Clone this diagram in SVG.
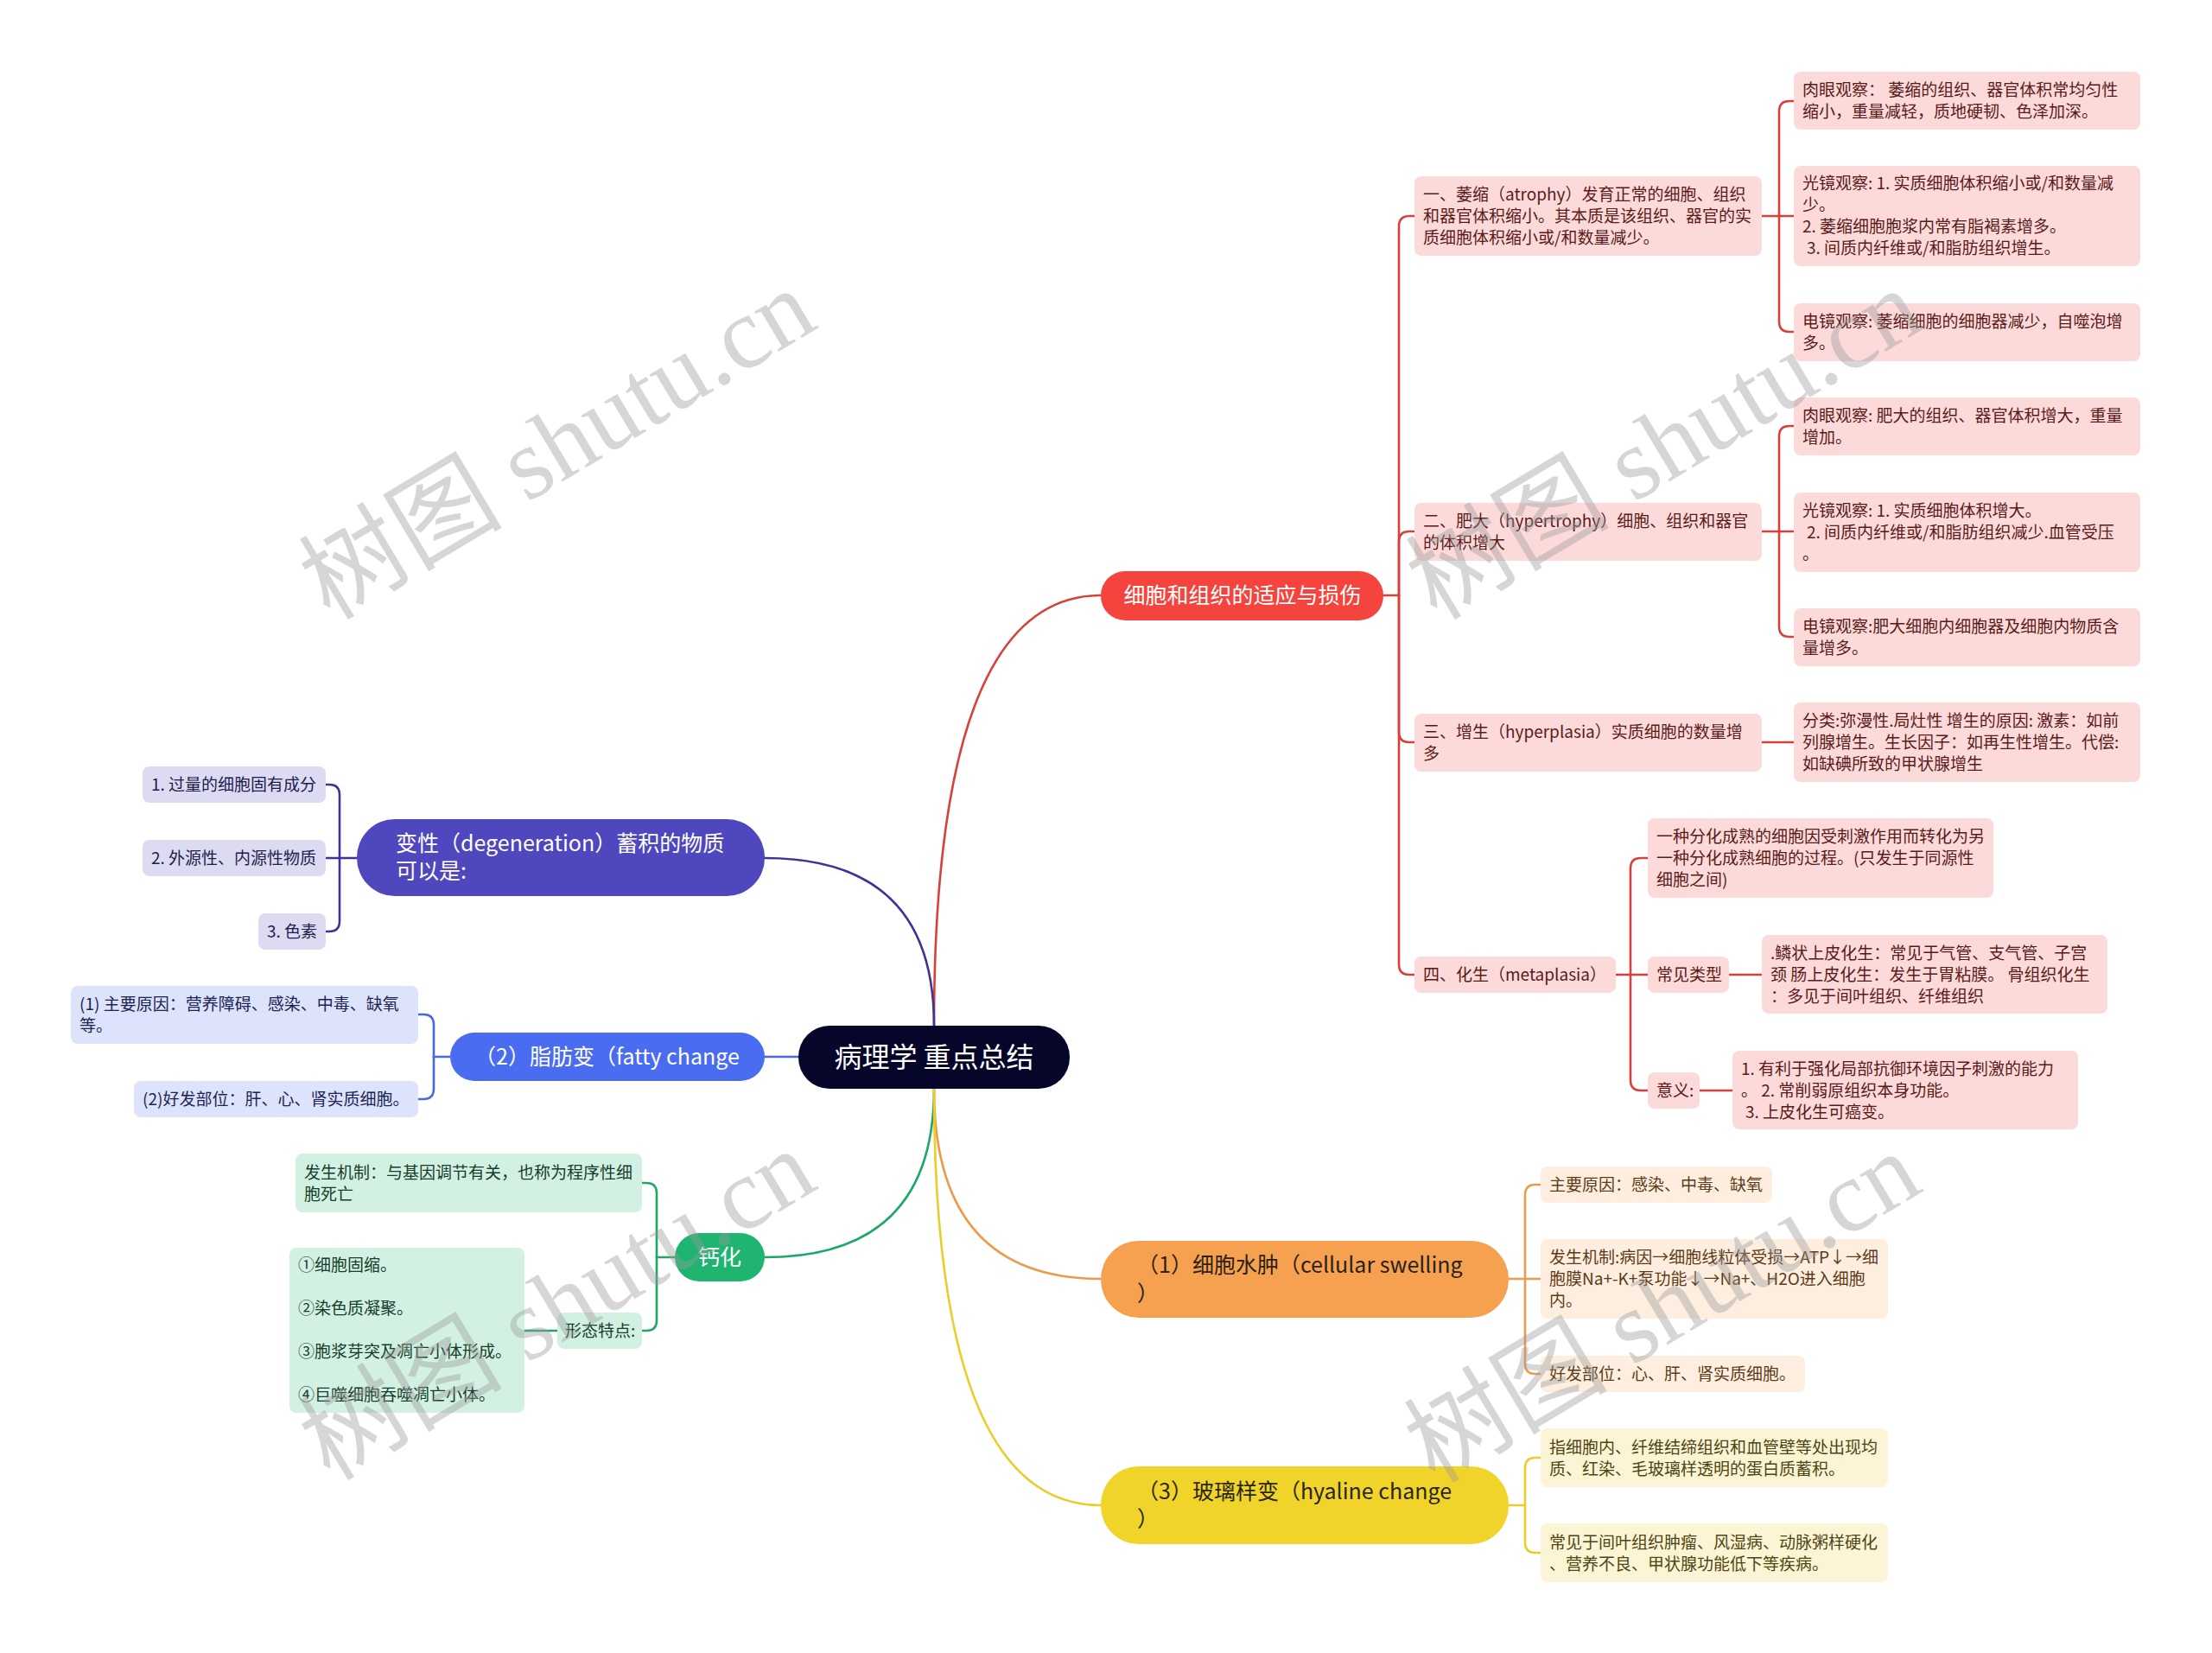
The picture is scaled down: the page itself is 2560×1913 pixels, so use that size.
<svg xmlns="http://www.w3.org/2000/svg" width="2560" height="1913" viewBox="0 0 2560 1913">
<style>
text{font-family:"Noto Sans CJK SC","Noto Sans",sans-serif;}
.s{font-size:19px;}
.m{font-size:25px;}
.w{fill:#ffffff;}
.c{fill:none;stroke-width:2.6;stroke-linecap:round;}
.cr{stroke:#d8413a;}
.co{stroke:#ee9a4b;}
.cy{stroke:#e9cd2b;}
.cp{stroke:#3b3496;}
.cb{stroke:#4966e3;}
.cg{stroke:#1ea868;}
.pr{fill:#fcdada;}
.tr{fill:#5a1a18;}
.po{fill:#fdeee0;}
.to{fill:#5e3b16;}
.py{fill:#fcf5d5;}
.ty{fill:#4e4512;}
.pp{fill:#dcdbf1;}
.tp{fill:#1e1b4d;}
.pb{fill:#dce3fb;}
.tb{fill:#1c2455;}
.pg{fill:#d2f1e2;}
.tg{fill:#163d2b;}
.wm{font-family:"Liberation Serif","Noto Sans CJK SC",serif;font-size:118px;fill:#9a9a9a;opacity:0.4;}
</style>
<rect width="2560" height="1913" fill="#ffffff"/>

<g id="connectors">
  <path class="c cr" d="M1081 1187 Q1081 689 1274 689"/>
  <path class="c cp" d="M1081 1187 Q1081 993 885 993"/>
  <path class="c cb" d="M924 1223 H885"/>
  <path class="c cg" d="M1081 1260 Q1081 1455 885 1455"/>
  <path class="c co" d="M1081 1260 Q1081 1480 1274 1480"/>
  <path class="c cy" d="M1081 1260 Q1081 1742 1274 1742"/>
  <path class="c cr" d="M1601 689 H1619"/>
  <path class="c cr" d="M1619 689 V262 Q1619 250 1631 250 H1637"/>
  <path class="c cr" d="M1619 689 V627 Q1619 615 1631 615 H1637"/>
  <path class="c cr" d="M1619 689 V847 Q1619 859 1631 859 H1637"/>
  <path class="c cr" d="M1619 689 V1116 Q1619 1128 1631 1128 H1637"/>
  <path class="c cr" d="M2039 250 H2076"/>
  <path class="c cr" d="M2059 250 V129 Q2059 117 2071 117 H2076"/>
  <path class="c cr" d="M2059 250 V372 Q2059 384 2071 384 H2076"/>
  <path class="c cr" d="M2039 615 H2076"/>
  <path class="c cr" d="M2059 615 V505 Q2059 493 2071 493 H2076"/>
  <path class="c cr" d="M2059 615 V725 Q2059 737 2071 737 H2076"/>
  <path class="c cr" d="M2039 859 H2076"/>
  <path class="c cr" d="M1870 1128 H1907"/>
  <path class="c cr" d="M1887 1128 V1005 Q1887 993 1899 993 H1907"/>
  <path class="c cr" d="M1887 1128 V1250 Q1887 1262 1899 1262 H1907"/>
  <path class="c cr" d="M2001 1128 H2039"/>
  <path class="c cr" d="M1967 1262 H2005"/>
  <path class="c co" d="M1746 1480 H1783"/>
  <path class="c co" d="M1765 1480 V1383 Q1765 1371 1777 1371 H1783"/>
  <path class="c co" d="M1765 1480 V1578 Q1765 1590 1777 1590 H1783"/>
  <path class="c cy" d="M1746 1742 H1765"/>
  <path class="c cy" d="M1765 1742 V1699 Q1765 1687 1777 1687 H1783"/>
  <path class="c cy" d="M1765 1742 V1785 Q1765 1797 1777 1797 H1783"/>
  <path class="c cp" d="M413 993 H377"/>
  <path class="c cp" d="M393 993 V920 Q393 908 381 908 H377"/>
  <path class="c cp" d="M393 993 V1066 Q393 1078 381 1078 H377"/>
  <path class="c cb" d="M521 1223 H502"/>
  <path class="c cb" d="M502 1223 V1186 Q502 1174 490 1174 H484"/>
  <path class="c cb" d="M502 1223 V1260 Q502 1272 490 1272 H484"/>
  <path class="c cg" d="M781 1455 H760"/>
  <path class="c cg" d="M760 1455 V1381 Q760 1369 748 1369 H743"/>
  <path class="c cg" d="M760 1455 V1528 Q760 1540 748 1540 H743"/>
  <path class="c cg" d="M645 1540 H607"/>
</g>

<g id="root">
  <rect x="924" y="1187" width="314" height="73" rx="36" fill="#05062a"/>
  <text x="1081" y="1235" text-anchor="middle" class="w" font-size="32">病理学 重点总结</text>
</g>

<g id="n-red">
  <rect x="1274" y="661" width="327" height="57" rx="28" fill="#f4443d"/>
  <text x="1438" y="698" text-anchor="middle" class="m w">细胞和组织的适应与损伤</text>
</g>
<g id="n-1a">
  <rect x="1637" y="204" width="402" height="92" rx="8" class="pr"/>
  <text class="s tr"><tspan x="1647" y="232">一、萎缩（atrophy）发育正常的细胞、组织</tspan><tspan x="1647" y="257">和器官体积缩小。其本质是该组织、器官的实</tspan><tspan x="1647" y="282">质细胞体积缩小或/和数量减少。</tspan></text>
</g>
<g id="n-1a1">
  <rect x="2076" y="83" width="401" height="67" rx="8" class="pr"/>
  <text class="s tr"><tspan x="2086" y="111">肉眼观察： 萎缩的组织、器官体积常均匀性</tspan><tspan x="2086" y="136">缩小，重量减轻，质地硬韧、色泽加深。</tspan></text>
</g>
<g id="n-1a2">
  <rect x="2076" y="192" width="401" height="116" rx="8" class="pr"/>
  <text class="s tr"><tspan x="2086" y="219">光镜观察: 1. 实质细胞体积缩小或/和数量减</tspan><tspan x="2086" y="244">少。</tspan><tspan x="2086" y="269">2. 萎缩细胞胞浆内常有脂褐素增多。</tspan><tspan x="2091" y="294">3. 间质内纤维或/和脂肪组织增生。</tspan></text>
</g>
<g id="n-1a3">
  <rect x="2076" y="351" width="401" height="67" rx="8" class="pr"/>
  <text class="s tr"><tspan x="2086" y="379">电镜观察: 萎缩细胞的细胞器减少，自噬泡增</tspan><tspan x="2086" y="404">多。</tspan></text>
</g>
<g id="n-1b">
  <rect x="1637" y="582" width="402" height="67" rx="8" class="pr"/>
  <text class="s tr"><tspan x="1647" y="610">二、肥大（hypertrophy）细胞、组织和器官</tspan><tspan x="1647" y="635">的体积增大</tspan></text>
</g>
<g id="n-1b1">
  <rect x="2076" y="460" width="401" height="67" rx="8" class="pr"/>
  <text class="s tr"><tspan x="2086" y="488">肉眼观察: 肥大的组织、器官体积增大，重量</tspan><tspan x="2086" y="513">增加。</tspan></text>
</g>
<g id="n-1b2">
  <rect x="2076" y="570" width="401" height="92" rx="8" class="pr"/>
  <text class="s tr"><tspan x="2086" y="598">光镜观察: 1. 实质细胞体积增大。</tspan><tspan x="2091" y="623">2. 间质内纤维或/和脂肪组织减少.血管受压</tspan><tspan x="2086" y="648">。</tspan></text>
</g>
<g id="n-1b3">
  <rect x="2076" y="704" width="401" height="67" rx="8" class="pr"/>
  <text class="s tr"><tspan x="2086" y="732">电镜观察:肥大细胞内细胞器及细胞内物质含</tspan><tspan x="2086" y="757">量增多。</tspan></text>
</g>
<g id="n-1c">
  <rect x="1637" y="826" width="402" height="67" rx="8" class="pr"/>
  <text class="s tr"><tspan x="1647" y="854">三、增生（hyperplasia）实质细胞的数量增</tspan><tspan x="1647" y="879">多</tspan></text>
</g>
<g id="n-1c1">
  <rect x="2076" y="813" width="401" height="92" rx="8" class="pr"/>
  <text class="s tr"><tspan x="2086" y="841">分类:弥漫性.局灶性 增生的原因: 激素：如前</tspan><tspan x="2086" y="866">列腺增生。生长因子：如再生性增生。代偿:</tspan><tspan x="2086" y="891">如缺碘所致的甲状腺增生</tspan></text>
</g>
<g id="n-1d">
  <rect x="1637" y="1107" width="233" height="42" rx="8" class="pr"/>
  <text x="1647" y="1135" class="s tr">四、化生（metaplasia）</text>
</g>
<g id="n-1dA">
  <rect x="1907" y="947" width="400" height="92" rx="8" class="pr"/>
  <text class="s tr"><tspan x="1917" y="975">一种分化成熟的细胞因受刺激作用而转化为另</tspan><tspan x="1917" y="1000">一种分化成熟细胞的过程。(只发生于同源性</tspan><tspan x="1917" y="1025">细胞之间)</tspan></text>
</g>
<g id="n-1dB">
  <rect x="1907" y="1107" width="94" height="42" rx="8" class="pr"/>
  <text x="1917" y="1135" class="s tr">常见类型</text>
</g>
<g id="n-1dB1">
  <rect x="2039" y="1082" width="400" height="91" rx="8" class="pr"/>
  <text class="s tr"><tspan x="2049" y="1110">.鳞状上皮化生：常见于气管、支气管、子宫</tspan><tspan x="2049" y="1135">颈 肠上皮化生：发生于胃粘膜。 骨组织化生</tspan><tspan x="2049" y="1160">：多见于间叶组织、纤维组织</tspan></text>
</g>
<g id="n-1dC">
  <rect x="1907" y="1241" width="60" height="42" rx="8" class="pr"/>
  <text x="1917" y="1269" class="s tr">意义:</text>
</g>
<g id="n-1dC1">
  <rect x="2005" y="1216" width="400" height="91" rx="8" class="pr"/>
  <text class="s tr"><tspan x="2015" y="1244">1. 有利于强化局部抗御环境因子刺激的能力</tspan><tspan x="2015" y="1269">。 2. 常削弱原组织本身功能。</tspan><tspan x="2020" y="1294">3. 上皮化生可癌变。</tspan></text>
</g>

<g id="n-orange">
  <rect x="1274" y="1436" width="472" height="89" rx="44" fill="#f5a14f"/>
  <text class="m" fill="#2b2118"><tspan x="1316" y="1473">（1）细胞水肿（cellular swelling</tspan><tspan x="1316" y="1506">）</tspan></text>
</g>
<g id="n-o1">
  <rect x="1783" y="1350" width="268" height="42" rx="8" class="po"/>
  <text x="1793" y="1378" class="s to">主要原因：感染、中毒、缺氧</text>
</g>
<g id="n-o2">
  <rect x="1783" y="1434" width="402" height="92" rx="8" class="po"/>
  <text class="s to"><tspan x="1793" y="1462">发生机制:病因→细胞线粒体受损→ATP↓→细</tspan><tspan x="1793" y="1487">胞膜Na+-K+泵功能↓→Na+、H2O进入细胞</tspan><tspan x="1793" y="1512">内。</tspan></text>
</g>
<g id="n-o3">
  <rect x="1783" y="1569" width="306" height="42" rx="8" class="po"/>
  <text x="1793" y="1597" class="s to">好发部位：心、肝、肾实质细胞。</text>
</g>

<g id="n-yellow">
  <rect x="1274" y="1697" width="472" height="90" rx="44" fill="#f0d42a"/>
  <text class="m" fill="#2b2614"><tspan x="1316" y="1735">（3）玻璃样变（hyaline change</tspan><tspan x="1316" y="1767">）</tspan></text>
</g>
<g id="n-y1">
  <rect x="1783" y="1653" width="402" height="68" rx="8" class="py"/>
  <text class="s ty"><tspan x="1793" y="1682">指细胞内、纤维结缔组织和血管壁等处出现均</tspan><tspan x="1793" y="1707">质、红染、毛玻璃样透明的蛋白质蓄积。</tspan></text>
</g>
<g id="n-y2">
  <rect x="1783" y="1763" width="402" height="68" rx="8" class="py"/>
  <text class="s ty"><tspan x="1793" y="1792">常见于间叶组织肿瘤、风湿病、动脉粥样硬化</tspan><tspan x="1793" y="1817">、营养不良、甲状腺功能低下等疾病。</tspan></text>
</g>

<g id="n-purple">
  <rect x="413" y="948" width="472" height="89" rx="44" fill="#4f47bd"/>
  <text class="m w"><tspan x="458" y="985">变性（degeneration）蓄积的物质</tspan><tspan x="458" y="1017">可以是:</tspan></text>
</g>
<g id="n-p1">
  <rect x="165" y="887" width="212" height="42" rx="8" class="pp"/>
  <text x="175" y="915" class="s tp">1. 过量的细胞固有成分</text>
</g>
<g id="n-p2">
  <rect x="165" y="972" width="212" height="42" rx="8" class="pp"/>
  <text x="175" y="1000" class="s tp">2. 外源性、内源性物质</text>
</g>
<g id="n-p3">
  <rect x="299" y="1057" width="78" height="42" rx="8" class="pp"/>
  <text x="309" y="1085" class="s tp">3. 色素</text>
</g>

<g id="n-blue">
  <rect x="521" y="1195" width="364" height="56" rx="28" fill="#4a6cf0"/>
  <text x="549" y="1232" class="m w">（2）脂肪变（fatty change</text>
</g>
<g id="n-b1">
  <rect x="82" y="1141" width="402" height="67" rx="8" class="pb"/>
  <text class="s tb"><tspan x="92" y="1169">(1) 主要原因：营养障碍、感染、中毒、缺氧</tspan><tspan x="92" y="1194">等。</tspan></text>
</g>
<g id="n-b2">
  <rect x="155" y="1251" width="329" height="42" rx="8" class="pb"/>
  <text x="165" y="1279" class="s tb">(2)好发部位：肝、心、肾实质细胞。</text>
</g>

<g id="n-green">
  <rect x="781" y="1427" width="104" height="56" rx="28" fill="#1fb571"/>
  <text x="833" y="1464" text-anchor="middle" class="m w">钙化</text>
</g>
<g id="n-g1">
  <rect x="342" y="1335" width="401" height="68" rx="8" class="pg"/>
  <text class="s tg"><tspan x="352" y="1364">发生机制：与基因调节有关，也称为程序性细</tspan><tspan x="352" y="1389">胞死亡</tspan></text>
</g>
<g id="n-g2">
  <rect x="645" y="1519" width="98" height="42" rx="8" class="pg"/>
  <text x="654" y="1547" class="s tg">形态特点:</text>
</g>
<g id="n-g21">
  <rect x="335" y="1444" width="272" height="191" rx="8" class="pg"/>
  <text class="s tg"><tspan x="345" y="1471">①细胞固缩。</tspan><tspan x="345" y="1521">②染色质凝聚。</tspan><tspan x="345" y="1571">③胞浆芽突及凋亡小体形成。</tspan><tspan x="345" y="1621">④巨噬细胞吞噬凋亡小体。</tspan></text>
</g>

<g id="watermarks">
  <text class="wm" text-anchor="middle" transform="translate(646 516) rotate(-31)" y="38">树图 shutu.cn</text>
  <text class="wm" text-anchor="middle" transform="translate(1927 516) rotate(-31)" y="38">树图 shutu.cn</text>
  <text class="wm" text-anchor="middle" transform="translate(646 1512) rotate(-31)" y="38">树图 shutu.cn</text>
  <text class="wm" text-anchor="middle" transform="translate(1925 1515) rotate(-31)" y="38">树图 shutu.cn</text>
</g>
</svg>
